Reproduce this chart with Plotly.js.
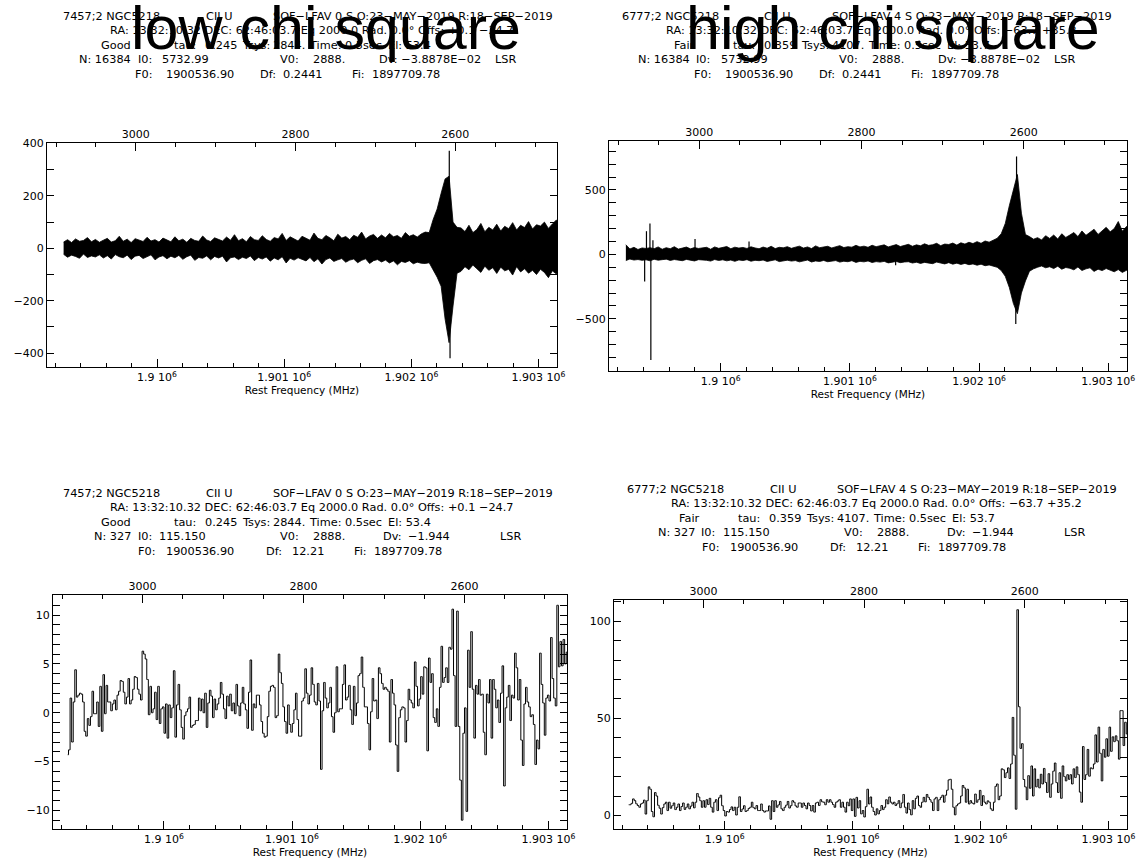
<!DOCTYPE html>
<html>
<head>
<meta charset="utf-8">
<script src="https://cdn.plot.ly/plotly-3.0.1.min.js"></script>
<style>
  html, body { margin: 0; padding: 0; background: #fff; }
  #chart { width: 1144px; height: 862px; }
</style>
</head>
<body>
<div id="chart"></div>
<script>
// ---------------------------------------------------------------------------
// Spectrum header constants (CLASS style)
// ---------------------------------------------------------------------------
const F0 = 1900536.90;          // rest frequency, MHz
const V0 = 2888;                // velocity at F0, km/s
const DF_FINE = 0.2441;         // MHz per channel, 16384-channel spectra
const DV_FINE = -3.8878e-2;     // km/s per channel
const DF_COARSE = 12.21;        // MHz per channel, 327-channel spectra
const FIRST_FREQ = 1899250;     // frequency of the first channel, MHz
const BIN_CHANNELS = 128;       // fine channels per min/max bin

const freqTickVals = [1900000, 1901000, 1902000, 1903000];
const freqTickText = ['1.9 10<sup>6</sup>', '1.901 10<sup>6</sup>', '1.902 10<sup>6</sup>', '1.903 10<sup>6</sup>'];
const velTickVals = [3000, 2800, 2600];

const panelTitles = ['low chi square', 'high chi square'];

// Per-bin maximum / minimum of the 16384-channel spectra (128 channels per bin)
const lowFineMax = [
  24,33,22,36,27,30,41,25,34,23,
  31,38,24,29,46,27,35,22,37,30,
  26,42,28,33,24,39,31,25,44,29,
  35,23,38,30,27,47,32,26,40,34,
  28,43,31,52,29,37,25,45,33,30,
  48,34,27,41,36,57,30,44,35,28,
  46,37,31,58,38,33,49,40,29,54,
  39,45,33,50,42,62,36,47,53,38,
  51,40,57,44,49,38,60,46,52,43,
  55,62,60,110,150,210,265,275,100,80,
  78,64,88,60,72,95,63,80,70,92,
  66,84,75,98,70,88,79,102,74,90,
  85,100,76,93,108,82,97,89
];
const lowFineMin = [
  -23,-34,-26,-31,-38,-22,-35,-29,-33,-25,
  -37,-28,-41,-24,-32,-36,-26,-43,-30,-27,
  -39,-31,-25,-44,-33,-28,-40,-30,-36,-27,
  -42,-32,-26,-46,-35,-38,-29,-44,-31,-37,
  -30,-52,-36,-33,-43,-34,-39,-29,-47,-35,
  -41,-33,-49,-37,-44,-32,-56,-38,-45,-36,
  -42,-48,-35,-51,-40,-60,-43,-37,-50,-44,
  -39,-53,-45,-41,-55,-46,-40,-58,-47,-43,
  -52,-45,-56,-48,-63,-50,-54,-47,-59,-53,
  -57,-58,-55,-80,-110,-145,-270,-360,-220,-95,
  -88,-70,-82,-64,-78,-92,-68,-84,-74,-96,
  -72,-86,-80,-102,-70,-90,-78,-95,-84,-100,
  -80,-92,-112,-86,-98,-84,-104,-90
];
const highFineMax = [
  75,42,55,38,50,46,52,44,58,40,
  52,44,60,41,49,57,43,53,46,50,
  55,40,58,47,52,61,44,56,49,54,
  46,59,50,44,57,48,63,45,55,51,
  60,47,56,64,49,58,45,66,52,57,
  63,50,61,68,53,60,56,70,58,64,
  55,71,60,66,74,58,69,76,61,72,
  78,63,74,67,82,70,75,86,68,80,
  77,88,72,90,80,94,84,99,86,104,
  95,110,125,160,240,377,500,620,320,154,
  138,118,130,112,145,124,150,120,160,132,
  150,170,138,182,148,172,195,155,180,210,
  175,200,255,180,215,245,195,225
];
const highFineMin = [
  -48,-36,-44,-40,-46,-42,-50,-38,-45,-41,
  -37,-47,-40,-43,-49,-39,-45,-51,-41,-44,
  -46,-52,-40,-47,-42,-50,-44,-54,-43,-48,
  -41,-53,-46,-49,-44,-55,-47,-42,-56,-49,
  -45,-52,-48,-58,-50,-44,-59,-51,-55,-47,
  -57,-50,-48,-60,-53,-57,-49,-62,-54,-58,
  -51,-63,-56,-60,-54,-66,-58,-55,-64,-59,
  -57,-67,-61,-70,-62,-66,-72,-60,-69,-74,
  -64,-76,-68,-78,-70,-80,-74,-84,-76,-88,
  -82,-90,-100,-125,-170,-256,-380,-460,-300,-206,
  -131,-112,-100,-90,-104,-96,-110,-92,-115,-102,
  -108,-120,-98,-125,-112,-104,-132,-115,-126,-110,
  -122,-135,-118,-140,-124,-132,-120,-138
];

// Single-channel spikes of the fine spectra (frequency MHz, value)
const lowSpikeFreq = [1902298, 1902304];
const lowSpikeVal = [372, -420];
const highSpikeFreq = [1899411, 1899425, 1899452, 1899459, 1899475, 1899801, 1900219, 1901354, 1902284, 1902290];
const highSpikeVal = [-210, 180, 240, -820, 110, 120, 100, -85, -541, 760];

// 327-channel spectra (12.21 MHz channels)
const lowCoarse = [
  -4.3,-3.8,1.5,-3.0,1.1,4.4,1.6,1.8,2.0,1.9,
  1.1,-1.9,-2.4,-0.6,-1.3,-0.4,2.2,-0.1,-0.1,1.1,
  -1.4,2.7,-1.9,3.9,-0.1,2.8,1.1,1.1,0.2,0.9,
  1.3,0.3,1.8,2.2,3.3,3.2,2.1,0.9,1.6,3.5,
  0.9,1.3,2.4,3.7,3.6,2.4,1.9,1.3,6.3,6.0,
  5.5,3.4,-0.2,2.7,0.0,0.4,2.1,-0.7,2.7,-1.1,
  0.4,0.6,-2.1,0.9,-2.6,0.8,-0.5,0.5,4.3,-2.5,
  0.8,2.9,0.3,-1.5,-2.7,-0.3,0.1,0.4,1.6,-1.5,
  -1.3,-1.2,-0.8,-0.8,1.5,0.2,1.4,0.0,2.0,-1.5,
  1.0,2.3,1.7,-0.5,1.4,0.3,0.9,1.5,3.1,1.9,
  0.4,-0.6,1.7,0.7,1.9,0.2,1.0,-0.1,2.9,0.7,
  -0.3,1.0,2.6,0.9,0.3,-1.6,2.1,5.4,-1.8,0.9,
  0.5,1.8,1.8,0.8,-0.9,-2.1,-2.5,-2.4,-0.4,2.2,
  2.7,2.8,2.6,-0.5,-0.3,6.0,4.1,3.0,0.6,-0.9,
  -2.1,0.8,-1.2,-2.0,-1.1,0.3,2.0,-0.7,-2.4,-2.4,
  1.2,1.5,4.5,2.0,0.9,1.8,4.6,2.9,1.1,0.8,
  3.0,1.2,-5.8,0.2,3.1,1.5,0.5,1.0,2.6,-0.4,
  -2.0,0.0,4.7,0.1,0.4,0.4,2.9,4.9,1.3,1.6,
  2.8,0.3,-1.2,2.7,-0.3,1.0,3.8,4.0,5.7,2.6,
  0.6,0.6,-1.1,-3.8,0.1,3.5,1.2,1.3,-0.6,4.6,
  4.0,3.0,2.4,2.6,2.4,2.2,-3.0,3.4,2.0,0.8,
  -3.3,-6.0,-0.5,0.3,0.6,0.5,-3.0,-0.8,2.4,1.3,
  1.0,0.5,5.2,2.7,0.7,1.4,3.7,1.9,4.7,4.6,
  -3.9,5.6,3.1,4.0,-0.5,-1.0,0.4,-1.4,2.6,6.8,
  3.1,3.6,4.6,3.1,6.7,6.5,10.6,3.8,-1.4,10.4,
  -1.4,-6.9,-11.0,-2.1,0.5,-10.1,6.4,2.6,8.3,2.4,
  -2.6,2.8,1.9,3.4,1.8,1.9,-2.0,-4.3,1.9,1.0,
  3.4,-2.6,3.4,2.4,0.5,1.3,-1.0,2.0,4.8,-7.5,
  0.5,1.6,2.8,-0.8,1.8,1.5,6.1,4.6,1.3,3.4,
  -2.8,-5.4,0.9,2.6,1.1,0.6,-0.4,-0.2,-1.2,-5.3,
  -2.8,-3.7,6.1,2.9,1.0,-2.3,1.5,1.8,1.2,7.7,
  3.5,1.5,0.7,11.0,4.7,7.3,4.8,7.5,5.0,6.2,
  3.8,5.1,2.9,4.4,3.3,5.6,4.0
];
const highCoarse = [
  5.5,5.5,6.2,8.5,7.6,6.0,5.1,4.2,5.9,6.4,
  7.9,0.7,7.6,14.7,13.5,2.0,-0.7,11.8,10.0,5.2,
  3.7,0.7,4.0,5.9,6.8,2.5,6.8,3.7,5.0,6.4,
  3.0,4.2,5.9,2.5,4.6,6.4,3.1,4.2,5.9,3.4,
  4.8,6.8,3.9,6.8,11.3,9.5,7.6,4.2,7.6,4.2,
  8.1,5.6,8.8,4.2,1.7,6.8,8.1,2.5,9.1,10.4,
  5.0,2.5,-0.3,2.0,1.7,3.0,4.4,2.5,4.2,0.2,
  4.2,9.6,2.0,3.3,5.0,2.0,2.5,3.6,4.2,6.8,
  4.0,3.4,5.1,2.5,2.5,5.9,2.5,1.7,2.3,2.3,
  4.9,-2.0,7.6,2.0,7.6,4.2,5.4,7.2,3.4,2.5,
  4.2,5.3,7.2,3.8,5.0,7.6,6.8,4.9,4.2,6.4,
  6.4,4.2,6.4,5.1,3.4,6.4,5.1,2.3,5.1,1.7,
  6.4,6.8,5.1,8.1,7.0,6.8,5.5,8.1,6.8,8.1,
  6.8,5.6,4.2,6.8,7.4,8.1,4.2,6.8,4.2,1.7,
  6.8,5.0,8.5,2.5,8.5,-0.5,9.3,3.8,7.6,0.8,
  2.5,-0.8,4.5,13.5,5.9,9.5,4.2,2.0,0.2,3.4,
  0.8,2.5,5.1,3.0,4.2,8.1,6.0,9.5,6.8,5.9,
  6.8,5.1,6.0,7.6,4.0,6.4,10.8,4.2,1.2,6.4,
  3.0,0.3,7.6,3.4,8.8,10.0,5.1,4.2,6.8,9.3,
  7.0,10.8,9.3,8.1,6.8,2.5,8.5,9.3,2.5,8.1,
  9.3,10.4,6.8,10.4,13.0,18.3,18.6,13.5,4.2,0.3,
  5.0,5.9,6.4,10.0,15.4,14.2,6.8,13.5,5.9,7.6,
  6.4,5.9,11.0,6.8,8.1,12.9,5.1,10.2,6.8,5.9,
  7.5,6.8,3.4,2.5,6.8,15.0,16.2,8.1,10.0,24.0,
  23.5,19.5,22.0,24.5,19.0,26.5,50.5,31.0,3.2,106,
  56,34.5,37,18.5,14.7,8.1,20.5,14.0,25.5,10.0,
  24.0,14.7,18.6,14.2,21.2,16.2,24.2,17.0,11.8,21.5,
  9.3,16.2,22.8,27.0,16.9,11.8,22.0,8.8,25.5,20.0,
  17.8,21.0,18.6,21.0,16.2,24.0,19.5,25.0,21.0,12.0,
  6.8,35.5,18.5,21.0,34.0,20.2,24.5,24.0,26.5,41.5,
  27.5,45.5,32.0,17.8,34.0,30.0,39.5,30.5,45.5,33.0,
  40.5,38.0,41.0,38.5,29.0,54.0,54.0,36.0,48.0,42.0,
  51.0,39.0,46.0,55.0,44.0,50.0,47.0
];

// Header blocks printed above each spectrum, one array of fields per line
const headerLowFine = [
  ['7457;2 NGC5218', 'CII U', 'SOF\u2212LFAV 0 S O:23\u2212MAY\u22122019 R:18\u2212SEP\u22122019'],
  ['RA: 13:32:10.32 DEC: 62:46:03.7 Eq 2000.0 Rad. 0.0\u00b0 Offs: +0.1 \u221224.7'],
  ['Good', 'tau:', '0.245', 'Tsys:', '2844.', 'Time:', '0.5sec', 'El: 53.4'],
  ['N: 16384', 'I0:', '5732.99', 'V0:', '2888.', 'Dv: \u22123.8878E\u221202', 'LSR'],
  ['F0:', '1900536.90', 'Df:', '0.2441', 'Fi:', '1897709.78']
];
const headerHighFine = [
  ['6777;2 NGC5218', 'CII U', 'SOF\u2212LFAV 4 S O:23\u2212MAY\u22122019 R:18\u2212SEP\u22122019'],
  ['RA: 13:32:10.32 DEC: 62:46:03.7 Eq 2000.0 Rad. 0.0\u00b0 Offs: \u221263.7 +35.2'],
  ['Fair', 'tau:', '0.359', 'Tsys:', '4107.', 'Time:', '0.5sec', 'El: 53.7'],
  ['N: 16384', 'I0:', '5732.99', 'V0:', '2888.', 'Dv: \u22123.8878E\u221202', 'LSR'],
  ['F0:', '1900536.90', 'Df:', '0.2441', 'Fi:', '1897709.78']
];
const headerLowCoarse = [
  ['7457;2 NGC5218', 'CII U', 'SOF\u2212LFAV 0 S O:23\u2212MAY\u22122019 R:18\u2212SEP\u22122019'],
  ['RA: 13:32:10.32 DEC: 62:46:03.7 Eq 2000.0 Rad. 0.0\u00b0 Offs: +0.1 \u221224.7'],
  ['Good', 'tau:', '0.245', 'Tsys:', '2844.', 'Time:', '0.5sec', 'El: 53.4'],
  ['N: 327', 'I0:', '115.150', 'V0:', '2888.', 'Dv:', '\u22121.944', 'LSR'],
  ['F0:', '1900536.90', 'Df:', '12.21', 'Fi:', '1897709.78']
];
const headerHighCoarse = [
  ['6777;2 NGC5218', 'CII U', 'SOF\u2212LFAV 4 S O:23\u2212MAY\u22122019 R:18\u2212SEP\u22122019'],
  ['RA: 13:32:10.32 DEC: 62:46:03.7 Eq 2000.0 Rad. 0.0\u00b0 Offs: \u221263.7 +35.2'],
  ['Fair', 'tau:', '0.359', 'Tsys:', '4107.', 'Time:', '0.5sec', 'El: 53.7'],
  ['N: 327', 'I0:', '115.150', 'V0:', '2888.', 'Dv:', '\u22121.944', 'LSR'],
  ['F0:', '1900536.90', 'Df:', '12.21', 'Fi:', '1897709.78']
];

// ---------------------------------------------------------------------------
// Page geometry (pixels) and axis setup
// ---------------------------------------------------------------------------
const W = 1144, H = 862;
const FREQ_RANGE = [1899135, 1903145];
const vel = f => V0 + (f - F0) * DV_FINE / DF_FINE;

const fx = px => px / W;
const fy = py => 1 - py / H;

// centre of every header field (pixels from the block origin)
const colsFine = [[111, 218.5, 413], [312], [115.5, 185, 221, 256, 289, 325, 363.5, 409.5],
                  [105, 144.5, 185, 289.5, 329, 429.5, 505.5], [143.5, 200, 267.5, 303, 358.5, 405.5]];
const colsCoarse = [[111, 218.5, 413], [312], [115.5, 185, 221, 256, 289, 325, 363.5, 409.5],
                    [112, 144.5, 182.5, 289.5, 329, 392.5, 428.5, 510], [147, 200, 274, 307.5, 360, 407.5]];
const LINE_STEP = 14.6;

const panels = [
  { box: [47, 557, 143, 367], yRange: [-453, 402], yDtick: 200, yMinor: 100,
    max: lowFineMax, min: lowFineMin, spikeF: lowSpikeFreq, spikeV: lowSpikeVal,
    header: headerLowFine, cols: colsFine, hx: 0, hy: 16, qualShift: 0,
    title: panelTitles[0], titleX: 326 },
  { box: [609, 1127, 141, 371], yRange: [-905, 880], yDtick: 500, yMinor: 100,
    max: highFineMax, min: highFineMin, spikeF: highSpikeFreq, spikeV: highSpikeVal,
    header: headerHighFine, cols: colsFine, hx: 559, hy: 16, qualShift: 10,
    title: panelTitles[1], titleX: 893 },
  { box: [53, 567, 595, 829], yRange: [-11.9, 12.05], yDtick: 5, yMinor: 1,
    values: lowCoarse, header: headerLowCoarse, cols: colsCoarse, hx: 0, hy: 493, qualShift: 0 },
  { box: [614, 1127, 600, 829], yRange: [-7, 111], yDtick: 50, yMinor: 10,
    values: highCoarse, header: headerHighCoarse, cols: colsCoarse, hx: 564, hy: 489, qualShift: 10 }
];

const tickFont = { family: 'DejaVu Sans, sans-serif', size: 11, color: '#000' };
const headerFont = { family: 'DejaVu Sans, sans-serif', size: 11.3, color: '#000' };
const titleFont = { family: 'Liberation Sans, Arial, sans-serif', size: 61, color: '#000' };

const traces = [];
const layout = {
  width: W, height: H,
  margin: { l: 0, r: 0, t: 0, b: 0 },
  paper_bgcolor: '#fff', plot_bgcolor: '#fff',
  showlegend: false,
  annotations: []
};

panels.forEach((p, i) => {
  const n = i + 1, nt = i + 5;
  const xId = n === 1 ? 'x' : 'x' + n;
  const yId = n === 1 ? 'y' : 'y' + n;
  const xtId = 'x' + nt;
  const [x0, x1, y0, y1] = p.box;

  if (p.max) {
    // min/max envelope of the fine spectrum, drawn as a closed band
    const centers = p.max.map((_, k) => FIRST_FREQ + (k + 0.5) * BIN_CHANNELS * DF_FINE);
    traces.push({
      type: 'scatter', mode: 'lines',
      x: centers.concat(centers.slice().reverse()),
      y: p.max.concat(p.min.slice().reverse()),
      fill: 'toself', fillcolor: '#000',
      line: { color: '#000', width: 0.8 },
      xaxis: xId, yaxis: yId, hoverinfo: 'skip'
    });
    // isolated single-channel spikes
    const sx = [], sy = [];
    p.spikeF.forEach((f, k) => { sx.push(f, f, null); sy.push(0, p.spikeV[k], null); });
    traces.push({
      type: 'scatter', mode: 'lines', x: sx, y: sy,
      line: { color: '#000', width: 1.2 },
      xaxis: xId, yaxis: yId, hoverinfo: 'skip'
    });
  } else {
    traces.push({
      type: 'scatter', mode: 'lines',
      x: p.values.map((_, k) => FIRST_FREQ + k * DF_COARSE),
      y: p.values,
      line: { color: '#000', width: 1, shape: 'hvh' },
      xaxis: xId, yaxis: yId, hoverinfo: 'skip'
    });
  }
  // carrier for the velocity axis on top
  traces.push({
    type: 'scatter', mode: 'markers',
    x: [vel(FREQ_RANGE[0]), vel(FREQ_RANGE[1])], y: [p.yRange[0], p.yRange[0]],
    marker: { opacity: 0 }, xaxis: xtId, yaxis: yId, hoverinfo: 'skip'
  });

  layout['xaxis' + (n === 1 ? '' : n)] = {
    domain: [fx(x0), fx(x1)], anchor: yId, range: FREQ_RANGE,
    tickmode: 'array', tickvals: freqTickVals, ticktext: freqTickText,
    ticks: 'inside', ticklen: 8, tickwidth: 1, tickcolor: '#000',
    minor: { tick0: 1899000, dtick: 200, ticks: 'inside', ticklen: 4, tickcolor: '#000' },
    showline: true, linecolor: '#000', linewidth: 1, mirror: false,
    showgrid: false, zeroline: false, tickfont: tickFont,
    title: { text: 'Rest Frequency (MHz)', font: { family: 'DejaVu Sans, sans-serif', size: 10.5, color: '#000' }, standoff: 0 }
  };
  layout['xaxis' + nt] = {
    overlaying: xId, anchor: yId, side: 'top',
    range: [vel(FREQ_RANGE[0]), vel(FREQ_RANGE[1])],
    tickmode: 'array', tickvals: velTickVals,
    ticks: 'inside', ticklen: 8, tickwidth: 1, tickcolor: '#000',
    minor: { tick0: 2500, dtick: 50, ticks: 'inside', ticklen: 4, tickcolor: '#000' },
    showline: true, linecolor: '#000', linewidth: 1,
    showgrid: false, zeroline: false, tickfont: tickFont
  };
  layout['yaxis' + (n === 1 ? '' : n)] = {
    domain: [fy(y1), fy(y0)], anchor: xId, range: p.yRange,
    tick0: 0, dtick: p.yDtick,
    ticks: 'inside', ticklen: 7, tickwidth: 1, tickcolor: '#000',
    minor: { tick0: 0, dtick: p.yMinor, ticks: 'inside', ticklen: 4, tickcolor: '#000' },
    showline: true, linecolor: '#000', linewidth: 1, mirror: 'allticks',
    showgrid: false, zeroline: false, tickfont: tickFont
  };

  p.header.forEach((fields, k) => {
    fields.forEach((txt, j) => {
      let cx = p.hx + p.cols[k][j];
      if (k === 2 && j === 0) cx += p.qualShift;
      layout.annotations.push({
        xref: 'paper', yref: 'paper',
        x: fx(cx), y: fy(p.hy + k * LINE_STEP),
        xanchor: 'center', yanchor: 'middle',
        text: txt, showarrow: false, font: headerFont
      });
    });
  });
  if (p.title) {
    layout.annotations.push({
      xref: 'paper', yref: 'paper', x: fx(p.titleX), y: fy(28),
      xanchor: 'center', yanchor: 'middle',
      text: p.title, showarrow: false, font: titleFont
    });
  }
});

Plotly.newPlot('chart', traces, layout, { staticPlot: true, displayModeBar: false });
</script>
</body>
</html>
